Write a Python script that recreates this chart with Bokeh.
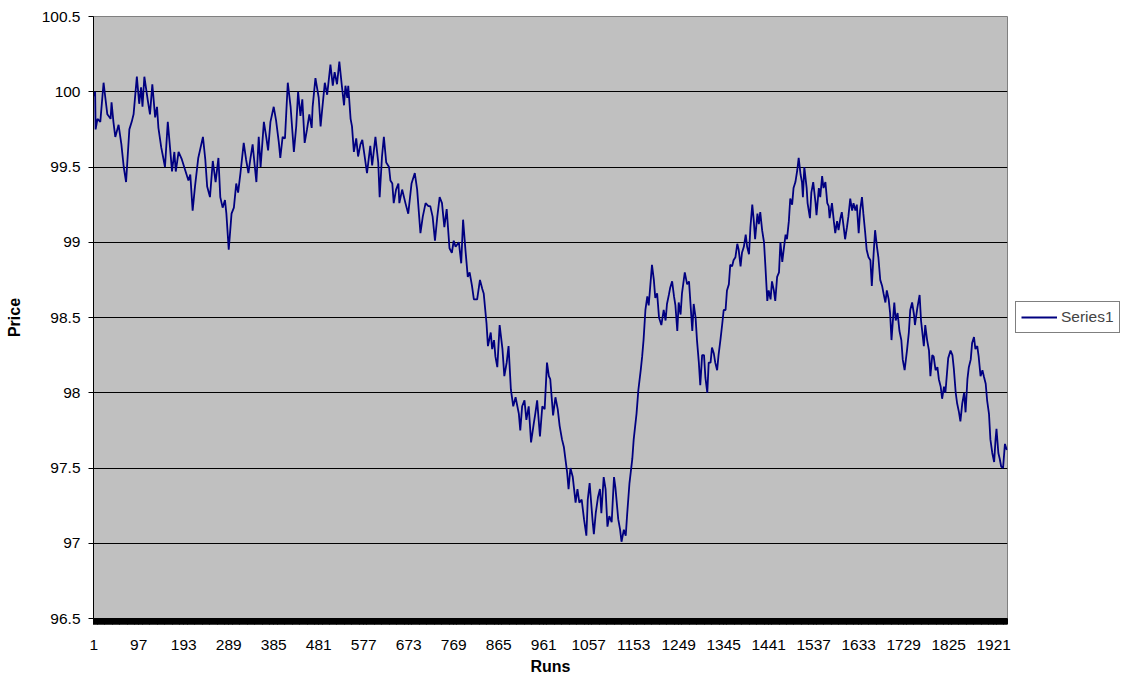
from bokeh.plotting import figure
from bokeh.models import Range1d, FixedTicker, CustomJSTickFormatter, Legend, LegendItem
from bokeh.embed import file_html
from bokeh.resources import INLINE

N_RUNS = 1950
x_tick_values = list(range(1, N_RUNS + 1, 96))
y_tick_values = [96.5, 97.0, 97.5, 98.0, 98.5, 99.0, 99.5, 100.0, 100.5]
series_name = "Series1"

runs = [
    1, 4, 5, 9, 15, 22, 25, 30, 37, 39,
    43, 47, 54, 60, 65, 70, 77, 82, 86, 93,
    98, 102, 105, 109, 116, 121, 126, 132, 136, 139,
    145, 150, 153, 159, 164, 168, 173, 176, 182, 189,
    196, 203, 207, 212, 217, 224, 234, 239, 243, 249,
    255, 261, 267, 271, 276, 281, 284, 289, 295, 300,
    305, 309, 314, 321, 326, 331, 335, 340, 346, 348,
    353, 357, 364, 369, 373, 378, 385, 390, 396, 399,
    404, 409, 415, 421, 428, 433, 437, 442, 446, 451,
    456, 461, 466, 468, 474, 481, 485, 488, 494, 499,
    506, 511, 515, 520, 525, 530, 535, 538, 542, 544,
    549, 552, 556, 561, 565, 570, 574, 579, 584, 591,
    595, 602, 608, 611, 616, 620, 625, 631, 634, 638,
    641, 646, 651, 653, 659, 666, 672, 679, 686, 691,
    698, 703, 709, 715, 719, 724, 729, 734, 739, 744,
    749, 754, 760, 765, 769, 773, 780, 785, 789, 794,
    799, 803, 808, 812, 819, 825, 830, 833, 839, 842,
    848, 851, 855, 858, 862, 867, 873, 877, 882, 886,
    891, 896, 901, 908, 911, 915, 920, 924, 929, 934,
    940, 943, 947, 953, 958, 963, 968, 972, 975, 981,
    986, 991, 995, 1000, 1004, 1011, 1014, 1018, 1023, 1029,
    1033, 1037, 1042, 1047, 1052, 1055, 1059, 1065, 1068, 1072,
    1077, 1081, 1084, 1089, 1093, 1097, 1101, 1106, 1111, 1114,
    1120, 1124, 1127, 1132, 1136, 1139, 1144, 1150, 1153, 1159,
    1163, 1168, 1171, 1174, 1178, 1182, 1185, 1192, 1196, 1199,
    1203, 1207, 1212, 1217, 1221, 1224, 1228, 1231, 1235, 1239,
    1242, 1246, 1249, 1253, 1256, 1262, 1267, 1271, 1274, 1278,
    1281, 1285, 1288, 1292, 1295, 1299, 1303, 1306, 1310, 1313,
    1317, 1320, 1324, 1327, 1331, 1334, 1338, 1342, 1345, 1349,
    1352, 1356, 1359, 1363, 1366, 1370, 1374, 1377, 1381, 1384,
    1388, 1392, 1395, 1399, 1402, 1406, 1409, 1412, 1417, 1420,
    1423, 1427, 1431, 1434, 1438, 1441, 1445, 1448, 1452, 1455,
    1459, 1463, 1466, 1470, 1473, 1477, 1480, 1484, 1487, 1491,
    1494, 1498, 1502, 1505, 1509, 1512, 1514, 1517, 1522, 1524,
    1529, 1532, 1536, 1541, 1543, 1548, 1551, 1555, 1558, 1562,
    1566, 1569, 1571, 1576, 1580, 1583, 1587, 1590, 1594, 1597,
    1601, 1604, 1608, 1611, 1615, 1619, 1622, 1626, 1629, 1633,
    1636, 1640, 1643, 1647, 1650, 1654, 1658, 1661, 1665, 1668,
    1672, 1675, 1679, 1683, 1686, 1690, 1693, 1697, 1700, 1703,
    1706, 1709, 1712, 1716, 1720, 1724, 1727, 1731, 1736, 1740,
    1743, 1747, 1751, 1753, 1758, 1763, 1766, 1772, 1775, 1779,
    1783, 1786, 1790, 1793, 1797, 1801, 1804, 1808, 1811, 1815,
    1818, 1824, 1829, 1833, 1836, 1840, 1843, 1847, 1850, 1854,
    1858, 1861, 1865, 1868, 1872, 1875, 1879, 1882, 1886, 1889,
    1893, 1897, 1900, 1904, 1907, 1911, 1914, 1918, 1922, 1925,
    1927, 1931, 1934, 1937, 1941, 1945, 1949,
]

prices = [
    99.97, 100.00, 99.75, 99.82, 99.80, 100.06, 99.98, 99.85, 99.82, 99.93,
    99.80, 99.70, 99.78, 99.65, 99.50, 99.40, 99.75, 99.80, 99.85, 100.10,
    99.92, 100.03, 99.90, 100.10, 99.95, 99.85, 100.05, 99.83, 99.90, 99.76,
    99.63, 99.55, 99.50, 99.80, 99.62, 99.47, 99.60, 99.47, 99.60, 99.55,
    99.48, 99.41, 99.45, 99.21, 99.37, 99.56, 99.70, 99.55, 99.37, 99.30,
    99.54, 99.40, 99.56, 99.30, 99.23, 99.28, 99.19, 98.95, 99.19, 99.23,
    99.39, 99.33, 99.46, 99.66, 99.55, 99.46, 99.55, 99.65, 99.46, 99.40,
    99.70, 99.50, 99.80, 99.70, 99.61, 99.80, 99.90, 99.81, 99.66, 99.56,
    99.70, 99.69, 100.06, 99.90, 99.60, 99.77, 100.00, 99.84, 99.95, 99.66,
    99.75, 99.85, 99.76, 99.90, 100.09, 99.96, 99.77, 99.87, 100.06, 99.98,
    100.18, 100.04, 100.13, 100.05, 100.20, 100.05, 99.91, 100.04, 99.96, 100.04,
    99.82, 99.77, 99.60, 99.69, 99.57, 99.65, 99.68, 99.57, 99.46, 99.64,
    99.51, 99.70, 99.53, 99.30, 99.57, 99.70, 99.53, 99.50, 99.41, 99.39,
    99.26, 99.35, 99.39, 99.26, 99.35, 99.26, 99.19, 99.39, 99.46, 99.35,
    99.06, 99.17, 99.26, 99.24, 99.24, 99.17, 99.01, 99.17, 99.30, 99.26,
    99.10, 99.22, 98.96, 98.93, 99.01, 98.97, 99.00, 98.86, 99.15, 98.95,
    98.77, 98.80, 98.71, 98.62, 98.62, 98.75, 98.69, 98.66, 98.46, 98.31,
    98.40, 98.29, 98.35, 98.24, 98.17, 98.45, 98.29, 98.11, 98.20, 98.31,
    98.02, 97.91, 97.97, 97.86, 97.75, 97.91, 97.95, 97.82, 97.91, 97.67,
    97.80, 97.86, 97.95, 97.71, 97.91, 97.89, 98.20, 98.11, 98.09, 97.85,
    97.97, 97.89, 97.78, 97.69, 97.64, 97.47, 97.36, 97.50, 97.44, 97.27,
    97.36, 97.27, 97.29, 97.16, 97.05, 97.29, 97.40, 97.16, 97.06, 97.20,
    97.31, 97.36, 97.20, 97.44, 97.36, 97.11, 97.18, 97.14, 97.44, 97.37,
    97.16, 97.09, 97.01, 97.09, 97.05, 97.19, 97.40, 97.56, 97.69, 97.86,
    98.02, 98.15, 98.24, 98.35, 98.55, 98.64, 98.58, 98.85, 98.75, 98.63,
    98.66, 98.50, 98.45, 98.55, 98.48, 98.59, 98.65, 98.70, 98.74, 98.64,
    98.58, 98.41, 98.60, 98.52, 98.66, 98.80, 98.72, 98.74, 98.60, 98.41,
    98.59, 98.50, 98.35, 98.20, 98.05, 98.25, 98.25, 98.10, 98.00, 98.20,
    98.20, 98.30, 98.26, 98.20, 98.15, 98.25, 98.35, 98.46, 98.55, 98.55,
    98.68, 98.72, 98.85, 98.84, 98.88, 98.90, 98.99, 98.95, 98.84, 98.93,
    98.97, 99.05, 98.97, 98.92, 99.10, 99.25, 99.15, 99.02, 99.19, 99.12,
    99.20, 99.08, 99.00, 98.84, 98.61, 98.68, 98.62, 98.74, 98.68, 98.61,
    98.77, 98.80, 99.00, 98.87, 98.95, 99.05, 99.02, 99.14, 99.29, 99.25,
    99.36, 99.40, 99.48, 99.56, 99.45, 99.40, 99.30, 99.50, 99.36, 99.26,
    99.16, 99.33, 99.40, 99.26, 99.18, 99.36, 99.30, 99.44, 99.36, 99.40,
    99.26, 99.24, 99.16, 99.26, 99.14, 99.06, 99.14, 99.08, 99.16, 99.20,
    99.10, 99.02, 99.10, 99.17, 99.29, 99.21, 99.26, 99.21, 99.25, 99.06,
    99.21, 99.30, 99.19, 99.06, 98.95, 98.90, 98.88, 98.71, 98.93, 99.08,
    98.97, 98.90, 98.75, 98.71, 98.66, 98.60, 98.68, 98.62, 98.53, 98.35,
    98.48, 98.60, 98.48, 98.53, 98.41, 98.35, 98.22, 98.15, 98.28, 98.40,
    98.55, 98.60, 98.52, 98.45, 98.56, 98.65, 98.48, 98.31, 98.45, 98.35,
    98.28, 98.11, 98.25, 98.24, 98.15, 98.17, 98.09, 98.04, 97.96, 98.04,
    98.00, 98.23, 98.28, 98.25, 98.16, 98.00, 97.93, 97.87, 97.81, 97.93,
    98.00, 97.87, 98.09, 98.17, 98.22, 98.33, 98.37, 98.29, 98.31, 98.24,
    98.11, 98.15, 98.11, 98.06, 97.95, 97.86, 97.69, 97.60, 97.54, 97.69,
    97.76, 97.60, 97.56, 97.51, 97.50, 97.66, 97.62,
]

FONT = "Liberation Sans"

p = figure(
    frame_width=914, frame_height=602,
    output_backend="svg", toolbar_location=None,
    x_range=Range1d(0.5, N_RUNS + 0.5),
    y_range=Range1d(96.5, 100.5),
    min_border_left=93, min_border_right=0,
    min_border_top=16, min_border_bottom=64,
)
p.background_fill_color = "#C0C0C0"
p.border_fill_color = "white"
p.outline_line_color = "#808080"
p.outline_line_width = 1

r = p.line(runs, prices, line_color="#000080", line_width=1.8)

# grid
p.xgrid.visible = False
p.ygrid.grid_line_color = "black"
p.ygrid.grid_line_width = 1

# y axis
p.yaxis.ticker = FixedTicker(ticks=y_tick_values)
p.yaxis.formatter = CustomJSTickFormatter(code="return String(tick);")
p.yaxis.axis_label = "Price"
p.yaxis.axis_line_color = "black"
p.yaxis.major_tick_out = 5
p.yaxis.major_tick_in = 0
p.yaxis.minor_tick_out = 0
p.yaxis.minor_tick_in = 0
p.yaxis.major_label_standoff = 8
p.yaxis.axis_label_standoff = 16

# x axis
p.xaxis.ticker = FixedTicker(ticks=x_tick_values, minor_ticks=list(range(1, N_RUNS + 1)))
p.xaxis.axis_label = "Runs"
p.xaxis.axis_line_color = "black"
p.xaxis.major_tick_out = 6
p.xaxis.major_tick_in = 0
p.xaxis.minor_tick_out = 6
p.xaxis.minor_tick_in = 0
p.xaxis.minor_tick_line_color = "black"
p.xaxis.major_label_standoff = 15
p.xaxis.axis_label_standoff = 5

for ax in (p.xaxis, p.yaxis):
    ax.major_label_text_font = FONT
    ax.major_label_text_font_size = "15.5px"
    ax.major_label_text_color = "black"
    ax.axis_label_text_font = FONT
    ax.axis_label_text_font_size = "16px"
    ax.axis_label_text_font_style = "bold"
    ax.axis_label_text_color = "black"

legend = Legend(
    items=[LegendItem(label=series_name, renderers=[r])],
    location="center_left",
    padding=5, margin=8, spacing=0,
    glyph_width=36, glyph_height=20, label_height=20,
    label_standoff=4,
    border_line_color="black", border_line_width=1,
    background_fill_color="white", background_fill_alpha=1.0,
    label_text_font=FONT, label_text_font_size="15.5px",
)
p.add_layout(legend, "right")

open("out.html", "w").write(file_html(p, INLINE))
